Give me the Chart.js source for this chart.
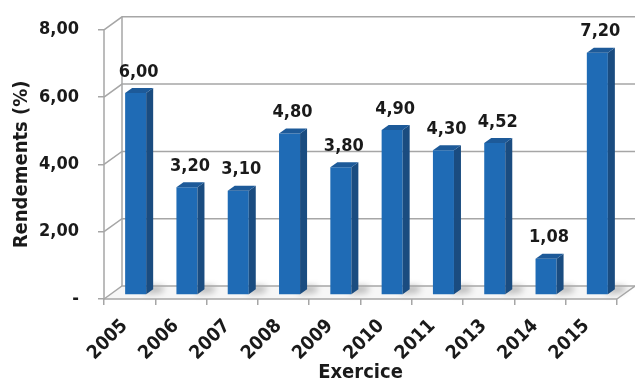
<!DOCTYPE html>
<html>
<head>
<meta charset="utf-8">
<script src="https://cdn.jsdelivr.net/npm/chart.js@4.4.1/dist/chart.umd.min.js"></script>
<style>
  body { margin: 0; background: #fff; }
  #wrap { width: 635px; height: 381px; }
</style>
</head>
<body>
<div id="wrap"><canvas id="myChart" width="635" height="381"></canvas></div>
<script>
const years = ['2005', '2006', '2007', '2008', '2009', '2010', '2011', '2013', '2014', '2015'];
const rendements = [6.00, 3.20, 3.10, 4.80, 3.80, 4.90, 4.30, 4.52, 1.08, 7.20];
const yTicks = [0, 2, 4, 6, 8];

const depthX = 18, depthY = 13;   // back wall offset
const barShiftX = 6, barShiftY = -4; // bars sit mid-depth
const sideX = 7, sideY = 5;       // bar thickness
const lineCol = '#a6a6a6';
const fontFam = '"DejaVu Sans Condensed", "DejaVu Sans"';

function fmt(v) {
    return v === 0 ? '-' : v.toFixed(2).replace('.', ',');
}

const box3d = {
    id: 'box3d',
    beforeDatasetsDraw(chart) {
        const ctx = chart.ctx;
        const a = chart.chartArea;
        const y = chart.scales.y;
        ctx.save();
        // floor
        ctx.beginPath();
        ctx.moveTo(a.left, a.bottom);
        ctx.lineTo(a.left + depthX, a.bottom - depthY);
        ctx.lineTo(a.right + depthX, a.bottom - depthY);
        ctx.lineTo(a.right, a.bottom);
        ctx.closePath();
        ctx.fillStyle = '#f6f6f6';
        ctx.fill();
        // soft shadows next to bars
        const meta = chart.getDatasetMeta(0);
        ctx.save();
        ctx.filter = 'blur(3px)';
        ctx.fillStyle = 'rgba(0,0,0,0.25)';
        meta.data.forEach(bar => {
            const x1 = bar.x + barShiftX + bar.width / 2;
            const b = bar.base + barShiftY;
            ctx.beginPath();
            ctx.moveTo(x1 - 2, b);
            ctx.lineTo(x1 + 16, b - 2);
            ctx.lineTo(x1 + 18, b - 8);
            ctx.lineTo(x1 + 4, b - 9);
            ctx.closePath();
            ctx.fill();
        });
        ctx.restore();
        // grid on back wall + diagonals
        ctx.strokeStyle = lineCol;
        ctx.lineWidth = 1.5;
        yTicks.forEach(v => {
            const py = y.getPixelForValue(v);
            ctx.beginPath();
            ctx.moveTo(a.left, py);
            ctx.lineTo(a.left + depthX, py - depthY);
            ctx.lineTo(a.right + depthX, py - depthY);
            ctx.stroke();
        });
        // back wall left edge
        ctx.beginPath();
        ctx.moveTo(a.left + depthX, a.top - depthY);
        ctx.lineTo(a.left + depthX, a.bottom - depthY);
        ctx.stroke();
        // floor right edge
        ctx.beginPath();
        ctx.moveTo(a.right, a.bottom);
        ctx.lineTo(a.right + depthX, a.bottom - depthY);
        ctx.stroke();
        ctx.restore();

        ctx.save();
        ctx.translate(barShiftX, barShiftY);
    },
    afterDatasetsDraw(chart) {
        const ctx = chart.ctx;
        const meta = chart.getDatasetMeta(0);
        meta.data.forEach(bar => {
            const l = bar.x - bar.width / 2, r = bar.x + bar.width / 2;
            const t = bar.y, b = bar.base;
            // side face
            ctx.beginPath();
            ctx.moveTo(r, t);
            ctx.lineTo(r + sideX, t - sideY);
            ctx.lineTo(r + sideX, b - sideY);
            ctx.lineTo(r, b);
            ctx.closePath();
            ctx.fillStyle = '#1a4c80';
            ctx.fill();
            // top face
            ctx.beginPath();
            ctx.moveTo(l, t);
            ctx.lineTo(l + sideX, t - sideY);
            ctx.lineTo(r + sideX, t - sideY);
            ctx.lineTo(r, t);
            ctx.closePath();
            ctx.fillStyle = '#1d5a99';
            ctx.fill();
        });
        ctx.restore();

        // value labels
        ctx.save();
        ctx.font = 'bold 18px ' + fontFam;
        ctx.fillStyle = '#1a1a1a';
        ctx.textAlign = 'center';
        ctx.textBaseline = 'middle';
        meta.data.forEach((bar, i) => {
            ctx.fillText(fmt(rendements[i]), bar.x + barShiftX + 3, bar.y - 25);
        });
        ctx.restore();

        // front axis lines
        const a = chart.chartArea;
        ctx.save();
        ctx.strokeStyle = lineCol;
        ctx.lineWidth = 1.5;
        ctx.beginPath();
        ctx.moveTo(a.left, a.top);
        ctx.lineTo(a.left, a.bottom);
        ctx.lineTo(a.right, a.bottom);
        ctx.stroke();
        ctx.restore();
    }
};

const ctx = document.getElementById('myChart').getContext('2d');
const chart = new Chart(ctx, {
    type: 'bar',
    data: {
        labels: years,
        datasets: [{
            label: 'Rendements',
            data: rendements,
            backgroundColor: '#1f6bb5',
            borderWidth: 0,
            categoryPercentage: 0.41,
            barPercentage: 1.0
        }]
    },
    options: {
        responsive: false,
        animation: false,
        layout: { padding: { top: 27, right: 18, left: 0, bottom: 0 } },
        plugins: {
            legend: { display: false },
            tooltip: { enabled: false }
        },
        scales: {
            x: {
                afterFit(scale) { scale.height = 82; },
                border: { display: false },
                grid: {
                    offset: true,
                    drawOnChartArea: false,
                    drawTicks: true,
                    tickLength: 6,
                    color: lineCol,
                    lineWidth: 1.5
                },
                ticks: {
                    minRotation: 45,
                    maxRotation: 45,
                    padding: 10,
                    labelOffset: -5,
                    color: '#1a1a1a',
                    font: { family: fontFam, weight: 'bold', size: 19 }
                },
                title: {
                    display: true,
                    text: 'Exercice',
                    color: '#1a1a1a',
                    padding: { top: 0, bottom: -4 },
                    font: { family: fontFam, weight: 'bold', size: 20 }
                }
            },
            y: {
                min: 0,
                max: 8,
                afterFit(scale) { scale.width = 104; },
                border: { display: false },
                grid: {
                    drawOnChartArea: false,
                    drawTicks: true,
                    tickLength: 6,
                    color: lineCol,
                    lineWidth: 1.5
                },
                ticks: {
                    stepSize: 2,
                    padding: 19,
                    color: '#1a1a1a',
                    font: { family: fontFam, weight: 'bold', size: 18 },
                    callback: v => fmt(v)
                },
                title: {
                    display: true,
                    text: 'Rendements (%)',
                    color: '#1a1a1a',
                    padding: { top: 10, bottom: 0 },
                    font: { family: fontFam, weight: 'bold', size: 20 }
                }
            }
        }
    },
    plugins: [box3d]
});
</script>
</body>
</html>
